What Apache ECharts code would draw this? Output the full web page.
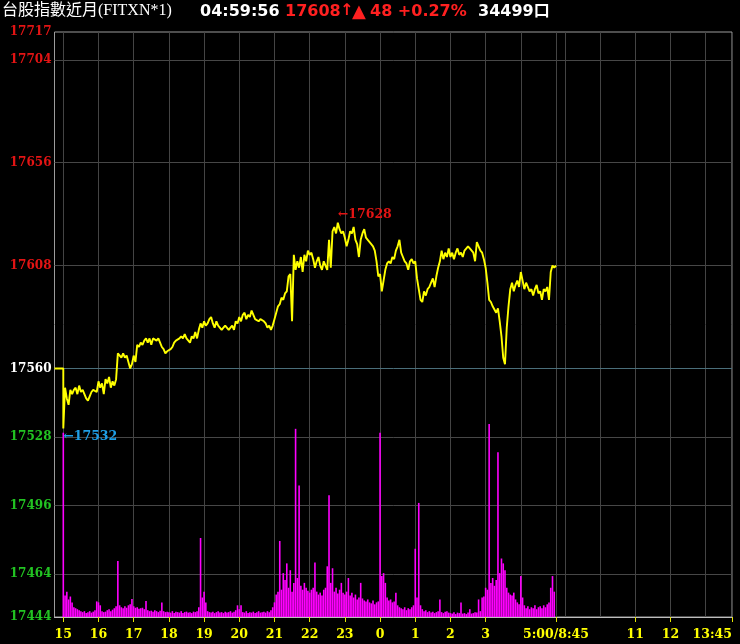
<!DOCTYPE html>
<html><head><meta charset="utf-8">
<script src="https://cdn.jsdelivr.net/npm/echarts@6/dist/echarts.min.js"></script>
<style>html,body{margin:0;padding:0;background:#000;}#c{width:740px;height:644px;}</style>
</head><body><div id="c"></div>
<script>
// ---- data ----
const TITLE = '台股指數近月(FITXN*1)';
const CLOCK = '04:59:56';
const TOTAL_VOLUME = 34499;
const REF_PRICE = 17560;          // previous close (reference)
const PRE_OPEN_MIN = -15;         // minutes relative to 15:00
const STEP_MIN = 3;               // sampling step of prices / volumes (minutes)

// prices every 3 minutes from 15:00 to 05:00
const prices = [
 17532,17551,17546,17543,17550,17548,17550,17551,17548,17552,17549,17550,17548,17546,17545,17547,17549,17550,17550,17549,
 17554,17551,17553,17548,17555,17553,17556,17551,17554,17552,17555,17567,17567,17565,17567,17565,17566,17563,17560,17562,
 17566,17563,17571,17570,17572,17571,17573,17574,17572,17574,17571,17574,17574,17573,17574,17572,17570,17569,17567,17568,
 17568,17569,17570,17572,17573,17573,17574,17575,17574,17576,17574,17574,17572,17575,17574,17577,17574,17578,17581,17579,
 17582,17580,17581,17583,17584,17581,17579,17582,17580,17580,17578,17579,17580,17580,17578,17579,17580,17578,17582,17581,
 17584,17582,17585,17586,17583,17585,17584,17587,17585,17583,17583,17582,17583,17583,17582,17581,17579,17580,17578,17580,
 17583,17586,17589,17590,17593,17592,17595,17596,17603,17604,17582,17613,17606,17610,17607,17612,17605,17613,17610,17615,
 17613,17614,17611,17607,17610,17612,17608,17606,17610,17608,17606,17620,17607,17624,17626,17623,17628,17625,17623,17624,
 17621,17617,17620,17624,17623,17626,17620,17618,17612,17620,17623,17625,17621,17620,17620,17618,17617,17615,17610,17603,
 17604,17596,17601,17606,17609,17610,17609,17612,17611,17615,17617,17620,17614,17612,17610,17609,17606,17610,17611,17609,
 17610,17602,17597,17592,17591,17596,17594,17597,17598,17600,17602,17598,17603,17607,17610,17615,17611,17614,17612,17616,
 17612,17614,17611,17614,17616,17613,17614,17612,17615,17615,17617,17616,17616,17614,17610,17619,17617,17615,17614,17611,
 17607,17600,17592,17591,17589,17589,17586,17588,17582,17575,17565,17562,17579,17589,17597,17600,17596,17599,17601,17598,
 17605,17601,17597,17600,17598,17596,17597,17594,17597,17599,17595,17596,17592,17597,17596,17598,17592,17605,17608,17607,
 17608
];

// volume (contracts per 3 minutes)
const volumes = [
 1890,220,260,180,210,150,100,90,80,70,60,50,60,40,50,60,45,55,70,160,
 150,120,60,50,55,70,80,60,75,90,110,575,120,100,90,110,95,120,130,185,
 110,95,100,85,90,95,80,165,70,60,65,55,70,60,50,65,150,60,50,55,
 50,45,60,40,55,50,45,60,40,50,55,45,50,40,55,50,60,100,810,200,
 260,150,60,50,45,55,40,50,60,45,50,40,55,45,50,60,45,55,70,120,
 80,120,50,45,60,40,50,45,55,40,50,60,45,50,55,45,60,50,70,100,
 150,230,260,780,280,450,380,550,300,480,260,350,1930,400,1350,320,280,350,300,270,
 250,280,300,560,260,230,250,220,280,300,520,1250,350,500,260,300,240,280,350,250,
 230,260,400,220,250,200,230,180,200,350,190,170,160,180,150,140,170,130,150,160,
 1890,420,450,350,200,170,180,150,160,250,120,100,90,80,100,70,90,80,100,120,
 700,200,1170,120,80,60,70,50,60,45,55,40,50,60,180,50,40,55,60,45,
 40,35,50,30,45,40,150,35,40,30,45,80,35,40,50,45,180,60,200,210,
 300,280,1980,350,400,320,380,1690,450,600,550,480,300,250,230,220,250,180,150,130,
 420,200,120,90,110,80,100,90,120,80,100,110,90,120,100,130,150,300,420,260
];

// axes
const yLabelValues = [17444,17464,17496,17528,17560,17608,17656,17704,17717];
const yGridValues  = [17464,17496,17528,17608,17656,17704];
const X_MIN = -15, X_MAX = 1140;   // 14:45 .. 13:45 (day session joined at 840)
const xGridMinutes = [0,60,120,180,240,300,360,420,480,540,600,660,720,780,840,855,915,975,1035,1095,1140];
const xTickMinutes = [0,60,120,180,240,300,360,420,480,540,600,660,720,840,975,1035,1140];
const xTickLabels  = ['15','16','17','18','19','20','21','22','23','0','1','2','3','5:00/8:45','11','12','13:45'];
const VOL_MAX = 6000;

// ---- chart ----
const last = prices[prices.length - 1];
const chg = last - REF_PRICE;
const pct = (chg / REF_PRICE * 100).toFixed(2);

const priceData = [[PRE_OPEN_MIN, REF_PRICE], [0, REF_PRICE]].concat(prices.map((p, i) => [i * STEP_MIN, p]));
const volData = volumes.map((v, i) => [i * STEP_MIN, v]);

const labelFont = '"DejaVu Serif"';
const hdrFont = 'bold 16px "DejaVu Sans"';
const RED = '#ff2020';

const chart = echarts.init(document.getElementById('c'), null, {renderer: 'canvas'});
chart.setOption({
  backgroundColor: '#000',
  animation: false,
  grid: {left: 54.5, right: 8, top: 32, bottom: 27, show: true, borderColor: '#9c9c9c', borderWidth: 1, backgroundColor: 'transparent'},
  graphic: [
    {type: 'text', left: 2, top: 3, style: {text: TITLE, fill: '#ffffff', font: '16px "Liberation Serif", "Noto Sans CJK TC"'}},
    {type: 'text', left: 200, top: 4, style: {text: CLOCK, fill: '#ffffff', font: hdrFont}},
    {type: 'text', left: 285, top: 4, style: {text: String(last), fill: RED, font: hdrFont}},
    {type: 'text', left: 340, top: 3, style: {text: '↑', fill: RED, font: 'bold 16px "DejaVu Sans"'}},
    {type: 'text', left: 352, top: 3, style: {text: '▲', fill: RED, font: 'bold 18px "DejaVu Sans"'}},
    {type: 'text', left: 370, top: 4, style: {text: Math.abs(chg) + ' +' + pct + '%', fill: RED, font: hdrFont}},
    {type: 'text', left: 478, top: 4, style: {text: TOTAL_VOLUME + '口', fill: '#ffffff', font: 'bold 16px "DejaVu Sans", "Noto Sans CJK TC"'}}
  ],
  xAxis: [
    {type: 'value', min: X_MIN, max: X_MAX, position: 'bottom',
     axisLine: {show: false}, axisLabel: {show: false},
     axisTick: {show: false, customValues: xGridMinutes},
     splitLine: {show: true, lineStyle: {color: '#444444', width: 1}}},
    {type: 'value', min: X_MIN, max: X_MAX, position: 'bottom',
     axisLine: {show: true, onZero: false, lineStyle: {color: '#bdbdbd'}},
     axisTick: {show: true, customValues: xTickMinutes, length: 5, lineStyle: {color: '#e6e600'}},
     axisLabel: {customValues: xTickMinutes, color: '#ffff00', fontFamily: labelFont, fontWeight: 'bold', fontSize: 12.5, margin: 11,
       alignMaxLabel: 'right',
       formatter: v => xTickLabels[xTickMinutes.indexOf(v)]},
     splitLine: {show: false}}
  ],
  yAxis: [
    {type: 'value', min: 17444, max: 17717, position: 'left',
     axisLine: {show: false},
     axisTick: {show: false, customValues: yGridValues},
     axisLabel: {customValues: yLabelValues, fontFamily: labelFont, fontWeight: 'bold', fontSize: 12, margin: 3,
       color: v => (+v > REF_PRICE ? '#e31414' : (+v < REF_PRICE ? '#22c322' : '#ffffff')),
       formatter: v => String(v)},
     splitLine: {show: true, lineStyle: {color: '#474747', width: 1}}},
    {type: 'value', min: 0, max: VOL_MAX, show: false, splitLine: {show: false}}
  ],
  series: [
    {type: 'bar', name: 'volume', xAxisIndex: 0, yAxisIndex: 1, data: volData, barWidth: 1.6,
     itemStyle: {color: '#ff00ff'}, z: 2, silent: true},
    {type: 'line', name: 'price', xAxisIndex: 0, yAxisIndex: 0, data: priceData, showSymbol: false,
     lineStyle: {color: '#ffff00', width: 1.9}, z: 3, silent: true,
     markLine: {silent: true, symbol: 'none', label: {show: false},
       lineStyle: {color: '#4a6e7a', width: 1, type: 'solid'}, data: [{yAxis: REF_PRICE}], z: 1},
     markPoint: {silent: true, symbol: 'circle', symbolSize: 0,
       data: [
         {type: 'max', label: {show: true, position: 'right', distance: 0, offset: [0, -8], color: '#e31414',
            fontFamily: labelFont, fontWeight: 'bold', fontSize: 12.5, formatter: p => '←' + p.value}},
         {type: 'min', label: {show: true, position: 'right', distance: 0, offset: [0, 8], color: '#1e9ee6',
            fontFamily: labelFont, fontWeight: 'bold', fontSize: 12.5, formatter: p => '←' + p.value}}
       ]}}
  ]
});
</script></body></html>
